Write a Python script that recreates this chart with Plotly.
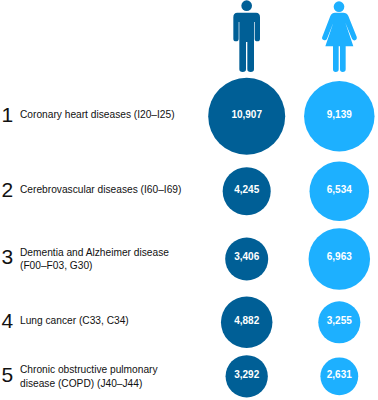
import re
import plotly.graph_objects as go

ranks = ["1", "2", "3", "4", "5"]
causes = [
    "Coronary heart diseases (I20–I25)",
    "Cerebrovascular diseases (I60–I69)",
    "Dementia and Alzheimer disease<br>(F00–F03, G30)",
    "Lung cancer (C33, C34)",
    "Chronic obstructive pulmonary<br>disease (COPD) (J40–J44)",
]
men = [10907, 4245, 3406, 4882, 3292]
women = [9139, 6534, 6963, 3255, 2631]

# layout constants (pixels)
ROW_Y = [116.3, 191.3, 259, 322.3, 376.3]
X_MEN, X_WOMEN, X_RANK, X_LABEL = 246.7, 339.3, 1.5, 20
VALUE_TEXT_LIFT = 1.3
LABEL_LIFT = 0.8
TWO_LINE_DROP = 2.0
DARK, LIGHT = "#005F96", "#1DB0FF"
SIZEREF = 3.682
FONT = "Liberation Sans, Arial, sans-serif"


def px(path):
    """Icon outlines are drawn on a 3x grid offset by 200 px in x."""
    idx = [0]
    def conv(m):
        v = float(m.group())
        out = 200 + v / 3 if idx[0] % 2 == 0 else v / 3
        idx[0] += 1
        return f"{out:.2f}"
    return re.sub(r"\d+(\.\d+)?", conv, path)


MAN = ("M 112 38 L 168 38 Q 180 38 180 52 L 180 116 Q 180 124 172 124 Q 164 124 164 116 "
       "L 164 66 L 162 66 L 162 208 Q 162 216 152 216 Q 142 216 142 208 L 142 126 L 138 126 "
       "L 138 208 Q 138 216 128 216 Q 118 216 118 208 L 118 66 L 116 66 L 116 116 "
       "Q 116 124 108 124 Q 100 124 100 116 L 100 52 Q 100 38 112 38 Z")
WOMAN = ("M 405 38 L 430 38 Q 440 38 445 48 L 470 110 Q 472 118 465 121 Q 459 122 456 116 "
         "L 436 68 L 460 139 L 437 139 L 437 208 Q 437 216 428 216 Q 420 216 420 208 L 420 139 "
         "L 416 139 L 416 208 Q 416 216 407 216 Q 399 216 399 208 L 399 139 L 376 139 L 400 68 "
         "L 381 116 Q 378 122 371 120 Q 364 117 367 110 L 391 48 Q 396 38 405 38 Z")


def head(cx, cy, r, color):
    return dict(type="circle", xref="x", yref="y", x0=200 + (cx - r) / 3, x1=200 + (cx + r) / 3,
                y0=(cy - r) / 3, y1=(cy + r) / 3, fillcolor=color, line_width=0)


fig = go.Figure()
for x, vals, color in [(X_MEN, men, DARK), (X_WOMEN, women, LIGHT)]:
    fig.add_trace(go.Scatter(
        x=[x] * len(vals), y=ROW_Y, mode="markers",
        marker=dict(size=vals, sizemode="area", sizeref=SIZEREF, color=color, line_width=0, opacity=1),
    ))
    fig.add_trace(go.Scatter(
        x=[x] * len(vals), y=[y - VALUE_TEXT_LIFT for y in ROW_Y], mode="text",
        text=[f"{v:,}" for v in vals], textposition="middle center",
        textfont=dict(family=FONT, size=10, color="white", weight="bold"),
    ))
fig.add_trace(go.Scatter(
    x=[X_RANK] * 5, y=ROW_Y, mode="text", text=ranks, textposition="middle right",
    textfont=dict(family=FONT, size=21, color="#111111"),
))
label_y = [y - LABEL_LIFT + (TWO_LINE_DROP if "<br>" in c else 0) for y, c in zip(ROW_Y, causes)]
fig.add_trace(go.Scatter(
    x=[X_LABEL] * 5, y=label_y, mode="text", text=causes, textposition="middle right",
    textfont=dict(family=FONT, size=10.2, color="#111111"),
))

fig.update_layout(
    width=378, height=400, margin=dict(l=0, r=0, t=0, b=0),
    paper_bgcolor="white", plot_bgcolor="white", showlegend=False, hovermode=False,
    xaxis=dict(range=[0, 378], visible=False, fixedrange=True),
    yaxis=dict(range=[400, 0], visible=False, fixedrange=True),
    shapes=[
        dict(type="path", xref="x", yref="y", path=px(MAN), fillcolor=DARK, line_width=0),
        dict(type="path", xref="x", yref="y", path=px(WOMAN), fillcolor=LIGHT, line_width=0),
        head(140, 17, 16, DARK),
        head(417, 20, 16, LIGHT),
    ],
)
fig.write_html("out.html", config={"displayModeBar": False},
               post_script="document.body.style.margin='0';document.body.style.overflow='hidden';")
